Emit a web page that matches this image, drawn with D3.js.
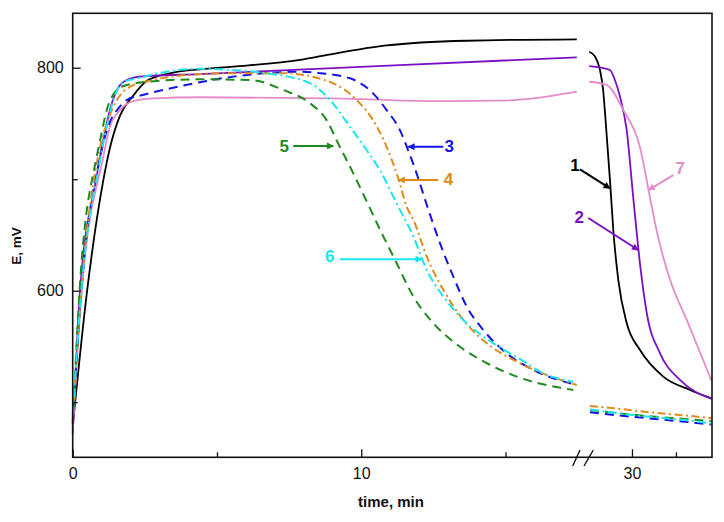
<!DOCTYPE html>
<html>
<head>
<meta charset="utf-8">
<script src="https://cdn.jsdelivr.net/npm/d3@7"></script>
<style>
body{margin:0;background:#fff;}
svg{display:block;}
</style>
</head>
<body>
<svg id="plot" width="724" height="522"></svg>
<script>
// E vs time, broken time axis (left part 0..~17.6 min, right part ~27.5..34.5 min)

// [time (min), E (mV)]
var c1Left = [[0,478],[0.5,600],[1.06,699],[1.29,728],[1.64,757],[2.1,775],[2.56,788],[3.37,795],[4.41,798.6],[5.57,801],[7.88,807],[9.03,812.5],[10.88,820],[13.66,824.2],[17.47,825.5]];
var c1Right = [[27.57,814.3],[27.9,810],[28.18,798],[28.36,780],[28.47,759],[28.75,699],[28.94,654],[29.22,610],[29.7,571],[30.45,547],[31.78,523],[33.3,511],[34.53,503.5]];

var c2Left = [[0,472],[0.25,598],[0.83,702],[1.06,735],[1.29,762],[1.53,780],[1.87,789],[2.33,792],[4.41,794.3],[11.34,802.4],[17.47,809.3]];
var c2Right = [[27.57,801.5],[28.18,800.3],[28.75,798],[29.03,789],[29.32,774],[29.7,744],[30.07,684],[30.45,625],[30.84,580],[31.59,544],[32.73,520],[34.53,503]];

var c7Left = [[0,475],[0.3,595],[1.06,720],[1.29,747],[1.64,762],[2.1,770],[2.79,772.5],[4.41,773.5],[9.03,772.5],[12.5,770],[14.8,770.4],[15.97,772.5],[17.47,778.5]];
var c7Right = [[27.57,787.4],[28.56,784.5],[29.51,762],[30.45,729],[31.02,684],[31.4,654],[32.16,610],[33.11,574],[34.53,519]];

var c3Left = [[0,482],[0.3,600],[0.95,720],[1.3,752],[1.6,764],[1.87,771],[2.5,776],[3.3,781],[4.41,787],[5.56,792],[7.88,796.4],[8.6,795],[9.61,790.5],[10.41,777],[10.88,762],[11.34,744],[11.58,729],[11.92,705],[12.27,677],[12.73,642.5],[13.19,612.6],[13.66,585.6],[14.23,564.8],[15.04,543.8],[15.97,528.9],[17.47,515.4]];
var c3Right = [[27.61,491],[29,488.5],[31,485.5],[33,482.5],[34.53,480]];

var c4Left = [[0,485],[0.3,600],[0.95,729],[1.18,750],[1.53,771],[1.99,783],[2.79,789],[3.95,793.5],[5.34,795],[7.3,795],[9.03,786],[9.84,771],[10.41,753],[10.88,729],[11.28,701],[11.58,675],[11.81,663.4],[12.27,630.5],[12.85,600.6],[13.54,573.7],[14.35,552.8],[15.39,536.4],[17.47,515.4]];
var c4Right = [[27.61,496.6],[29,494.5],[31,491],[33,488.2],[34.53,485.6]];

var c5Left = [[0,480],[0.25,605],[0.83,720],[0.95,735],[1.18,762],[1.53,780],[1.87,784.5],[2.56,787.4],[4.41,789.6],[6.15,789],[7.3,780],[8.23,768],[8.8,753],[9.2,732],[9.73,705],[10.19,680],[10.77,648.4],[11.23,624.6],[11.81,594.6],[12.5,570.8],[13.42,549.8],[14.35,535],[15.39,523],[17.35,511]];
var c5Right = [[27.61,493],[29,490.5],[31,487.5],[33,485],[34.53,483]];

var c6Left = [[0,488],[0.3,600],[0.95,717],[1.18,747],[1.41,771],[1.75,787],[2.33,791],[3.26,796.4],[4.41,799],[5.5,798],[6.72,795],[8.23,786],[8.92,771],[9.61,747],[10.19,726],[10.65,708],[11.23,678],[11.81,648.4],[12.27,618.6],[12.85,594.6],[13.54,573.7],[14.58,552.8],[15.74,535],[16.2,527.4],[17.35,518.4]];
var c6Right = [[27.61,493.6],[29,490.5],[31,487],[33,484],[34.53,481]];

var yMajor = [600, 800];
var yMinor = [500, 700];
var xLeftMajor = [0, 10];
var xLeftMinor = [5, 15];
var xRightMajor = [30];
var xRightMinor = [32.5];

var series = [
	{id:"1", left:c1Left, right:c1Right, color:"#000000", dash:null},
	{id:"2", left:c2Left, right:c2Right, color:"#7b0fc4", dash:null},
	{id:"7", left:c7Left, right:c7Right, color:"#e58cc9", dash:null},
	{id:"3", left:c3Left, right:c3Right, color:"#1414e6", dash:"9,6"},
	{id:"4", left:c4Left, right:c4Right, color:"#e08a1c", dash:"8,3.5,2,3.5"},
	{id:"5", left:c5Left, right:c5Right, color:"#1f8a1f", dash:"9,6"},
	{id:"6", left:c6Left, right:c6Right, color:"#19e6ee", dash:"9,3.5,2,3.5"}
];

// arrow tip sits on the curve (data coords), tail + label are pixel offsets from the tip
var notes = [
	{id:"1", side:"right", t:28.75, v:691.8, tail:[-30,-19], label:[-35,-23]},
	{id:"7", side:"right", t:30.93, v:690.3, tail:[25,-15], label:[32,-22]},
	{id:"2", side:"right", t:30.36, v:636.5, tail:[-50,-32], label:[-59,-33]},
	{id:"3", side:"left", t:11.63, v:729.1, tail:[35,0], label:[41,0]},
	{id:"4", side:"left", t:11.29, v:699.3, tail:[40,0], label:[50,0]},
	{id:"5", side:"left", t:9.03, v:729.8, tail:[-40,0], label:[-49,1]},
	{id:"6", side:"left", t:12.10, v:628.2, tail:[-82,0], label:[-92,-3]}
];

var plotL = 72.7, plotR = 712, plotT = 13.3, plotB = 457.3;
var breakX = 582;

var xL = d3.scaleLinear().domain([0, 17.65]).range([plotL, breakX]);
var xR = d3.scaleLinear().domain([27.5, 34.55]).range([588, plotR]);
var y = d3.scaleLinear().domain([450.6, 848.8]).range([plotB, plotT]);

var svg = d3.select("#plot");

function colorOf(id){
	for(var i = 0; i < series.length; i++){
		if(series[i].id === id) return series[i].color;
	}
	return "#000";
}

var defs = svg.append("defs");
series.forEach(function(s){
	defs.append("marker")
	.attr("id","arrow_"+s.id)
	.attr("viewBox","0 0 10 10")
	.attr("refX",9).attr("refY",5)
	.attr("markerUnits","userSpaceOnUse")
	.attr("markerWidth",9).attr("markerHeight",7)
	.attr("orient","auto")
	.append("path")
	.attr("d","M0,0 L10,5 L0,10 z")
	.attr("fill",s.color);
});

var lineL = d3.line().x(function(d){return xL(d[0]);}).y(function(d){return y(d[1]);}).curve(d3.curveMonotoneX);
var lineR = d3.line().x(function(d){return xR(d[0]);}).y(function(d){return y(d[1]);}).curve(d3.curveMonotoneX);

var curves = svg.append("g").attr("id","curves");
series.forEach(function(s){
	[[s.left,lineL],[s.right,lineR]].forEach(function(part){
		curves.append("path")
		.attr("d",part[1](part[0]))
		.attr("fill","none")
		.attr("stroke",s.color)
		.attr("stroke-width",s.dash ? 2 : 1.8)
		.attr("stroke-dasharray",s.dash);
	});
});

// frame
svg.append("rect")
.attr("x",plotL).attr("y",plotT)
.attr("width",plotR-plotL).attr("height",plotB-plotT)
.attr("fill","none").attr("stroke","#111").attr("stroke-width",1.6);

function styleAxis(g){
	g.select(".domain").remove();
	g.selectAll(".tick line").attr("stroke","#111").attr("stroke-width",1.3);
	g.selectAll(".tick text").attr("fill","#111")
	.attr("font-family","Liberation Sans, Arial, sans-serif").attr("font-size",16);
}

svg.append("g").attr("transform","translate("+plotL+",0)")
.call(d3.axisLeft(y).tickValues(yMajor).tickSize(-8).tickPadding(9).tickFormat(d3.format("d")))
.call(styleAxis);
svg.append("g").attr("transform","translate("+plotL+",0)")
.call(d3.axisLeft(y).tickValues(yMinor).tickSize(-5).tickFormat(""))
.call(styleAxis);

svg.append("g").attr("transform","translate(0,"+plotB+")")
.call(d3.axisBottom(xL).tickValues(xLeftMajor).tickSize(-8).tickPadding(10).tickFormat(d3.format("d")))
.call(styleAxis);
svg.append("g").attr("transform","translate(0,"+plotB+")")
.call(d3.axisBottom(xL).tickValues(xLeftMinor).tickSize(-5).tickFormat(""))
.call(styleAxis);
svg.append("g").attr("transform","translate(0,"+plotB+")")
.call(d3.axisBottom(xR).tickValues(xRightMajor).tickSize(-8).tickPadding(10).tickFormat(d3.format("d")))
.call(styleAxis);
svg.append("g").attr("transform","translate(0,"+plotB+")")
.call(d3.axisBottom(xR).tickValues(xRightMinor).tickSize(-5).tickFormat(""))
.call(styleAxis);

// axis break marks
[[572.7,466,580,450],[584,466,593.3,450]].forEach(function(b){
	svg.append("line")
	.attr("x1",b[0]).attr("y1",b[1]).attr("x2",b[2]).attr("y2",b[3])
	.attr("stroke","#111").attr("stroke-width",1.4);
});

// axis titles
svg.append("text")
.attr("transform","translate(21,246) rotate(-90)")
.attr("text-anchor","middle")
.attr("font-family","Liberation Sans, Arial, sans-serif")
.attr("font-weight","bold").attr("font-size",13.5)
.attr("fill","#111")
.text("E, mV");

svg.append("text")
.attr("x",391).attr("y",507)
.attr("text-anchor","middle")
.attr("font-family","Liberation Sans, Arial, sans-serif")
.attr("font-weight","bold").attr("font-size",15)
.attr("fill","#111")
.text("time, min");

// numbered arrows
var ann = svg.append("g").attr("id","notes");
notes.forEach(function(n){
	var px = (n.side === "left" ? xL(n.t) : xR(n.t));
	var py = y(n.v);
	var c = colorOf(n.id);
	ann.append("line")
	.attr("x1",px+n.tail[0]).attr("y1",py+n.tail[1])
	.attr("x2",px).attr("y2",py)
	.attr("stroke",c).attr("stroke-width",2)
	.attr("marker-end","url(#arrow_"+n.id+")");
	ann.append("text")
	.attr("x",px+n.label[0]).attr("y",py+n.label[1])
	.attr("text-anchor","middle")
	.attr("dominant-baseline","central")
	.attr("font-family","Liberation Sans, Arial, sans-serif")
	.attr("font-weight","bold").attr("font-size",17)
	.attr("fill",c)
	.text(n.id);
});
</script>
</body>
</html>
